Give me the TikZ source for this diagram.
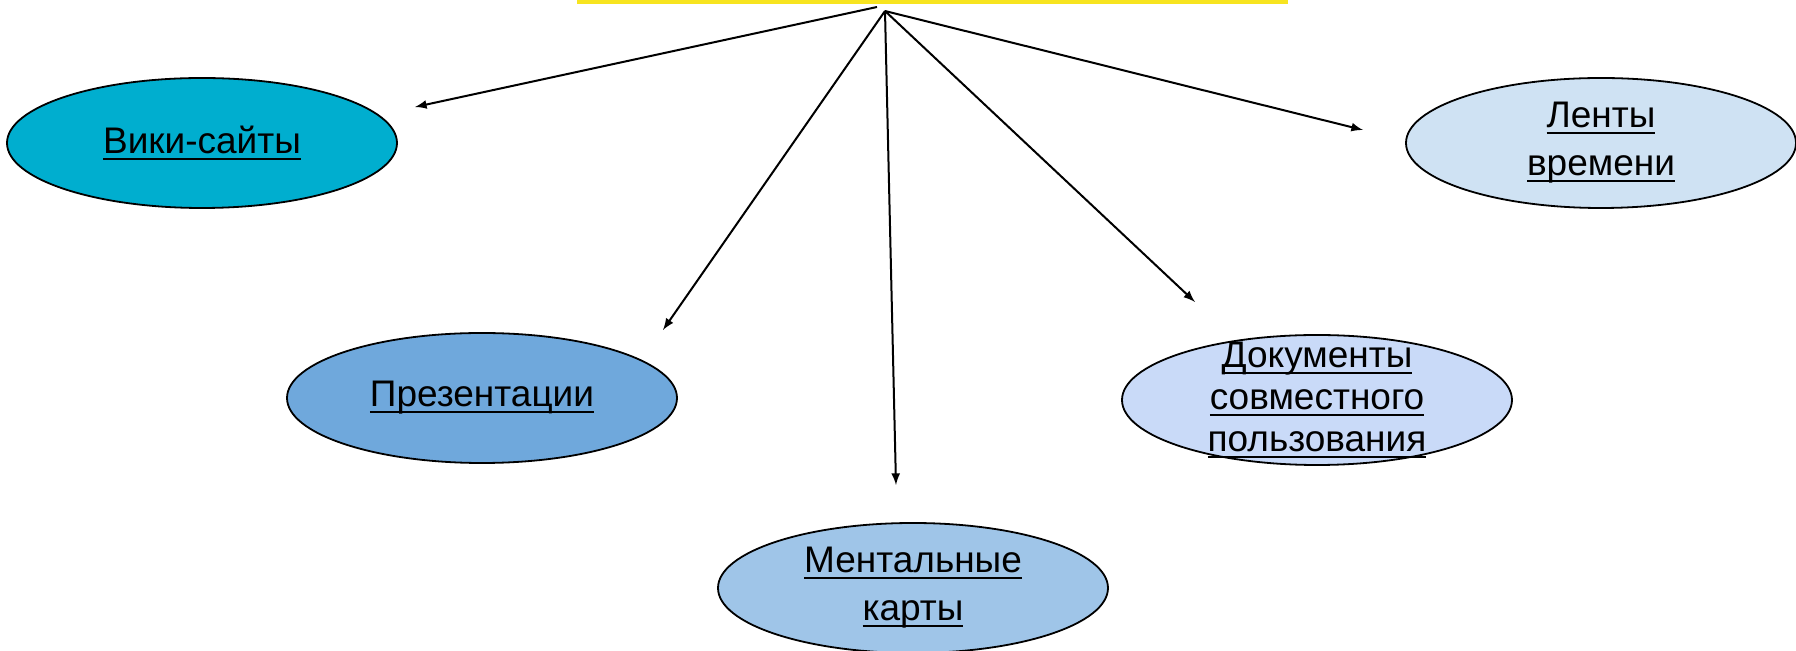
\documentclass[tikz,border=0pt]{standalone}
\usepackage{fontspec}
\setmainfont{Liberation Sans}
\usepackage{tikz}
\usetikzlibrary{arrows,shapes}
\newcommand{\undl}[1]{\setbox0\hbox{#1}\rlap{\rule[-3pt]{\wd0}{0.9pt}}\box0}
\definecolor{wikicol}{RGB}{0,174,207}
\definecolor{prescol}{RGB}{111,168,220}
\definecolor{mentcol}{RGB}{159,197,232}
\definecolor{doccol}{RGB}{201,218,248}
\definecolor{lentcol}{RGB}{207,226,243}
\definecolor{rootcol}{RGB}{247,228,32}
\tikzstyle{tool} = [ellipse, draw, line width=0.9pt, inner sep=0pt,
    minimum width=195pt, minimum height=65pt, align=center,
    font=\fontsize{18.5}{24}\selectfont]
\tikzstyle{link} = [-latex, line width=1pt, black]

\begin{document}
\begin{tikzpicture}[x=0.5pt, y=-0.5pt]
    \useasboundingbox (0,0) rectangle (1796,651);
    % Place nodes
    \node [fill=rootcol, inner sep=0pt, minimum width=355.5pt,
    minimum height=2.5pt] (root) at (932.5,2) {};
    \coordinate (hubleft) at (877,7);
    \coordinate (hub) at (885,11);
    \node [tool, fill=wikicol] (wiki) at (202,143) {\undl{Вики-сайты}};
    \node [tool, fill=prescol] (pres) at (482,398) {\undl{Презентации}};
    \node [tool, fill=mentcol] (ment) at (913,588)
    {\undl{Ментальные}\\\undl{карты}};
    \node [tool, fill=doccol, inner ysep=-12pt,
    font=\fontsize{18.5}{21}\selectfont] (doc) at (1317,400)
    {\undl{Документы}\\\undl{совместного}\\\undl{пользования}};
    \node [tool, fill=lentcol] (lent) at (1601,143)
    {\undl{Ленты}\\\undl{времени}};
    % Free ends of the arrows
    \coordinate (wikiend) at (415,107);
    \coordinate (presend) at (663,330);
    \coordinate (mentend) at (896,485);
    \coordinate (docend) at (1195,302);
    \coordinate (lentend) at (1363,130);
    % Draw edges
    \draw [link] (hubleft) -- (wikiend);
    \draw [link] (hub) -- (presend);
    \draw [link] (hub) -- (mentend);
    \draw [link] (hub) -- (docend);
    \draw [link] (hub) -- (lentend);
\end{tikzpicture}
\end{document}
